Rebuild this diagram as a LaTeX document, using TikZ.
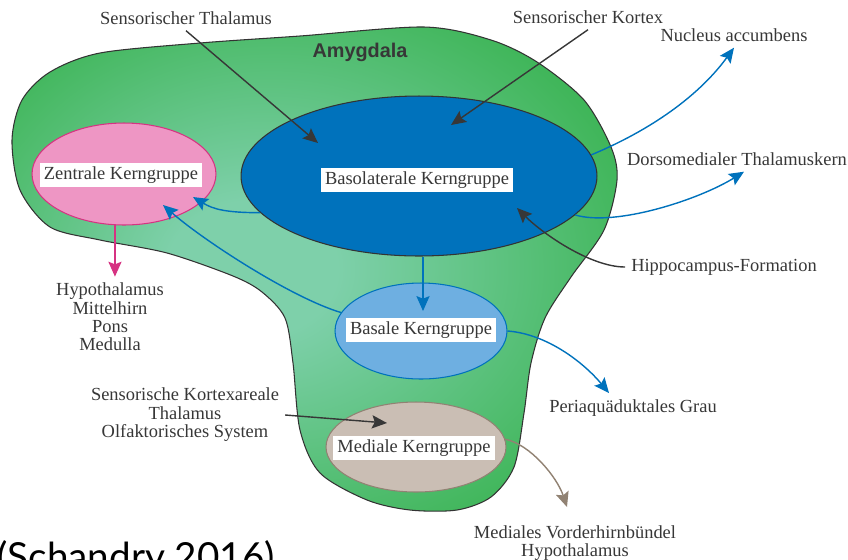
\documentclass[tikz,border=0pt]{standalone}
\usepackage{fontspec}
\setmainfont{Liberation Serif}
\newfontfamily\amyfont{Liberation Sans}
\newfontfamily\quellfont{Lato}
\usetikzlibrary{shapes,arrows.meta,positioning,calc}
\definecolor{amygreen}{RGB}{55,178,78}
\definecolor{amymint}{RGB}{126,208,170}
\definecolor{bldark}{RGB}{0,114,188}
\definecolor{bllight}{RGB}{110,175,225}
\definecolor{zpink}{RGB}{238,150,196}
\definecolor{zmagenta}{RGB}{214,51,130}
\definecolor{mbeige}{RGB}{202,190,180}
\definecolor{mbrown}{RGB}{145,130,115}
\definecolor{txtgray}{RGB}{55,55,55}
\pgfdeclareradialshading{amyshade}{\pgfpoint{-6bp}{0bp}}{color(0bp)=(amymint); color(7bp)=(amymint); color(33bp)=(amygreen); color(50bp)=(amygreen)}

\begin{document}
\begin{tikzpicture}[x=0.02cm, y=-0.02cm,
    kern/.style={ellipse, draw, line width=0.6pt, inner sep=0pt},
    kernbox/.style={fill=white, inner xsep=2.5pt, inner ysep=2pt, font=\fontsize{10.5}{11}\selectfont, text=txtgray},
    txt/.style={align=center, font=\fontsize{10.5}{10.5}\selectfont, text=txtgray},
    darkarrow/.style={-{Stealth[length=8.5pt,width=7.5pt,inset=1.5pt]}, line width=0.8pt, draw=txtgray},
    bluearrow/.style={-{Stealth[length=8.5pt,width=7.5pt,inset=1.5pt]}, line width=0.8pt, draw=bldark},
    pinkarrow/.style={-{Stealth[length=8.5pt,width=7.5pt,inset=1.5pt]}, line width=0.8pt, draw=zmagenta},
    brownarrow/.style={-{Stealth[length=8.5pt,width=7.5pt,inset=1.5pt]}, line width=0.8pt, draw=mbrown}]

  \useasboundingbox (0,0) rectangle (848,559);

  % Amygdala
  \shadedraw[shading=amyshade, draw=black!80, line width=0.6pt]
    plot[smooth cycle] coordinates {(12,140) (22,100) (50,72) (100,53) (200,43) (300,36)
      (424,27) (491,40) (537,62) (584,100) (611,147) (617,180) (604,230) (571,277)
      (545,318) (531,363) (524,413) (514,467) (491,497) (457,510) (410,510) (367,500)
      (320,473) (300,430) (293,363) (285,318) (262,292) (233,276) (167,253) (100,240)
      (50,227) (20,190)};
  \node[font=\amyfont\bfseries\fontsize{11.3}{12}\selectfont, text=txtgray] (amy) at (360,52) {Amygdala};

  % Kerngruppen
  \node[kern, fill=zpink, draw=zmagenta, minimum width=3.68cm, minimum height=2.04cm] (zentral) at (124,174) {};
  \node[kern, fill=bldark, draw=black!80, minimum width=7.12cm, minimum height=3.2cm] (basolat) at (419,176) {};
  \node[kern, fill=bllight, draw=bldark, minimum width=3.44cm, minimum height=1.92cm] (basal) at (421,331) {};
  \node[kern, fill=mbeige, draw=mbrown, minimum width=3.6cm, minimum height=1.8cm] (medial) at (416,447) {};

  \node[kernbox] (zentraltxt) at (121,175) {Zentrale Kerngruppe};
  \node[kernbox] (basolattxt) at (417,180) {Basolaterale Kerngruppe};
  \node[kernbox] (basaltxt) at (421,330) {Basale Kerngruppe};
  \node[kernbox] (medialtxt) at (414,448) {Mediale Kerngruppe};

  % Eingänge und Ausgänge
  \node[txt] (thal) at (186,18) {Sensorischer Thalamus};
  \node[txt] (kortex) at (588,17) {Sensorischer Kortex};
  \node[txt] (nucleus) at (734,35) {Nucleus accumbens};
  \node[txt] (dorso) at (737,159) {Dorsomedialer Thalamuskern};
  \node[txt] (hippo) at (724,267) {Hippocampus-Formation};
  \node[txt] (hypo) at (110,317) {Hypothalamus\\Mittelhirn\\Pons\\Medulla};
  \node[txt] (kortexareale) at (185,415) {Sensorische Kortexareale\\Thalamus\\Olfaktorisches System};
  \node[txt] (peri) at (633,408) {Periaquäduktales Grau};
  \node[txt] (vorder) at (575,543) {Mediales Vorderhirnbündel\\Hypothalamus};

  \node[anchor=base west, inner sep=0pt, font=\quellfont\fontsize{22}{22}\selectfont, text=black] (quelle) at (-3,570) {(Schandry 2016)};

  % Pfeile
  \draw[darkarrow] (thal.south) -- ($(basolat.center)+(-101,-33)$);
  \draw[darkarrow] (kortex.south) -- ($(basolat.center)+(32,-51)$);
  \draw[darkarrow] (hippo.west) .. controls +(-35,0) and +(25,25) .. ($(basolat.center)+(98,32)$);
  \draw[darkarrow] (kortexareale.east) -- ($(medial.center)+(-29,-24)$);

  \draw[bluearrow] (basolat.7) .. controls +(60,-25) and +(-35,48) .. (nucleus.south);
  \draw[bluearrow] (basolat.346) .. controls +(40,12) and +(-45,28) .. ($(dorso.south)+(7,0)$);
  \draw[bluearrow] (basolat.193) .. controls +(-35,0) and +(20,12) .. ($(zentral.center)+(69,23)$);
  \draw[bluearrow] (basal.167) .. controls +(-50,-15) and +(40,35) .. ($(zentral.center)+(39,31)$);
  \draw[bluearrow] ($(basolat.south)+(4,0)$) -- ($(basolat.south |- basal.center)+(4,-20)$);
  \draw[bluearrow] (basal.east) .. controls +(40,3) and +(-25,-30) .. ($(peri.center)+(-24,-15)$);

  \draw[pinkarrow] (zentral.260) -- (zentral.260 |- hypo.north);
  \draw[brownarrow] (medial.5) .. controls +(25,5) and +(-10,-30) .. ($(vorder.center)+(-8,-36)$);
\end{tikzpicture}
\end{document}
